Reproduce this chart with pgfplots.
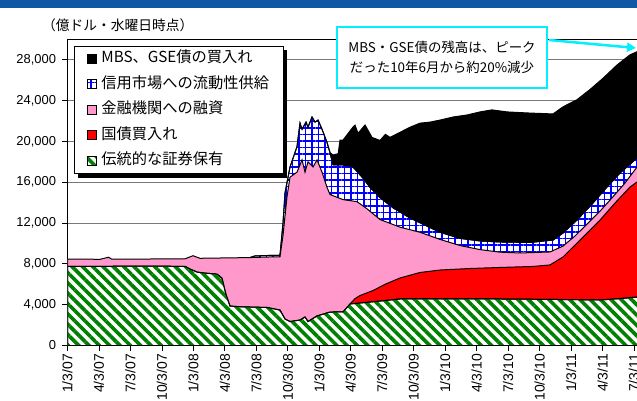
\documentclass[border=0pt]{standalone}
\usepackage{fontspec}
\setmainfont{Liberation Sans}
\newfontfamily\jp{Noto Sans CJK JP}
\usepackage{pgfplots}
\pgfplotsset{compat=1.18}
\usetikzlibrary{patterns.meta,arrows.meta}
\definecolor{titleblue}{RGB}{16,88,163}
\definecolor{pinkfill}{RGB}{255,153,204}
\definecolor{stripegreen}{RGB}{0,128,0}
\definecolor{annocyan}{RGB}{0,240,255}
\definecolor{gridgray}{RGB}{120,120,120}
\begin{document}
\begin{tikzpicture}
\useasboundingbox (0bp,0bp) rectangle (637bp,401bp);
\fill[titleblue] (0bp,393bp) rectangle (637bp,401bp);
\node[font=\jp\fontsize{13.8}{15}\selectfont, anchor=west, inner sep=0pt] at (42bp,376bp) {（億ドル・水曜日時点）};
\begin{axis}[
  at={(67.5bp,55.5bp)}, anchor=south west, scale only axis,
  width=572.8bp, height=306bp,
  xmin=0, xmax=18.2, ymin=0, ymax=30000,
  axis line style={black, line width=0.8bp},
  xtick={0,...,18},
  xticklabels={1/3/07,4/3/07,7/3/07,10/3/07,1/3/08,4/3/08,7/3/08,10/3/08,1/3/09,4/3/09,7/3/09,10/3/09,1/3/10,4/3/10,7/3/10,10/3/10,1/3/11,4/3/11,7/3/11},
  ytick={0,4000,...,28000},
  scaled y ticks=false,
  /pgf/number format/1000 sep={,},
  /pgf/number format/assume math mode=true,
  tick align=outside, xtick pos=bottom, ytick pos=left,
  major tick length=5bp,
  tick style={black, line width=0.8bp},
  ymajorgrids, grid style={gridgray, line width=0.8bp},
  yticklabel style={font=\fontsize{13}{15}\selectfont, xshift=-3bp},
  xticklabel style={rotate=90, anchor=east, font=\fontsize{14}{15}\selectfont},
  legend cell align=left,
  legend image code/.code={\draw[#1] (0bp,-4.5bp) rectangle (9bp,4.5bp); \path (12bp,0bp);},
  legend style={name=leg, at={(0.0113,0.9788)}, anchor=north west, draw=black, line width=0.8bp, fill=white,
    font=\jp\fontsize{15.3}{17}\selectfont, row sep=9.5bp, inner xsep=13bp, inner ysep=4.5bp,
    nodes={inner sep=1bp, text height=11bp, text depth=3bp}},
]
% MBS / GSE (cumulative total)
\addplot[fill=black, draw=black, line width=1bp] coordinates {
(8.341,18900) (8.437,18680) (8.600,18800) (8.660,20140) (8.755,20140) (9.072,21420) (9.136,21600) (9.231,20800) (9.454,21620) (9.676,20400) (9.930,20100) (10.100,20700) (10.248,20400) (10.566,20900) (10.883,21400) (11.201,21800) (11.519,21900) (11.837,22100) (12.250,22400) (12.695,22600) (13.108,22900) (13.489,23100) (13.966,22900) (14.601,22800) (15.428,22700) (15.745,23400) (16.190,24100) (16.603,25100) (17.016,26200) (17.461,27500) (17.874,28500) (18.096,28800) (18.2,28900)
} \closedcycle;
\addlegendentry{MBS、GSE債の買入れ}
% credit markets (cumulative)
\addplot[preaction={fill=white}, pattern={Hatch[angle=0,distance=6.5bp,line width=1.5bp]}, pattern color=blue, draw=black, line width=1bp] coordinates {
(5.799,8620) (5.958,8780) (6.435,8830) (6.752,8850) (6.848,12000) (6.911,14950) (7.070,17500) (7.293,19500) (7.388,21800) (7.452,21200) (7.579,21900) (7.642,21400) (7.769,22400) (7.865,21900) (7.960,22100) (8.087,21200) (8.246,19900) (8.341,18900) (8.437,17700) (8.755,17700) (9.072,17500) (9.390,16400) (9.612,15500) (9.930,14500) (10.343,13500) (10.883,12500) (11.424,11700) (11.837,11100) (12.472,10500) (13.108,10250) (13.743,10150) (14.697,10100) (15.428,10340) (15.745,11030) (16.190,12300) (16.698,13970) (17.143,15540) (17.556,16910) (18.096,18380) (18.2,18450)
} \closedcycle;
\addlegendentry{信用市場への流動性供給}
% loans to financial institutions (cumulative)
\addplot[fill=pinkfill, draw=black, line width=1bp] coordinates {
(0,8480) (1.033,8450) (1.300,8650) (1.400,8480) (2.622,8480) (3.734,8500) (3.988,8800) (4.210,8550) (5.799,8620) (6.435,8680) (6.752,8700) (6.848,10800) (6.975,14600) (7.070,16500) (7.293,17000) (7.452,18200) (7.547,17000) (7.642,18000) (7.801,17500) (7.928,18200) (8.087,17000) (8.246,15500) (8.341,14800) (8.755,14300) (9.199,14100) (9.517,13400) (9.930,12350) (10.566,11600) (11.201,11100) (11.837,10400) (12.472,9800) (13.108,9400) (13.743,9150) (14.379,9070) (15.332,9170) (15.745,9750) (16.127,10740) (16.603,12200) (16.921,13180) (17.239,14260) (17.715,15930) (18.096,17500) (18.2,17600)
} \closedcycle;
\addlegendentry{金融機関への融資}
% Treasury purchases (cumulative)
\addplot[fill=red, draw=black, line width=1bp] coordinates {
(8.977,4070) (9.136,4600) (9.295,4900) (9.708,5390) (10.089,6000) (10.566,6620) (11.201,7160) (11.837,7400) (12.790,7550) (13.743,7650) (14.792,7750) (15.332,7900) (15.745,8680) (16.285,10340) (16.921,12300) (17.397,13970) (17.874,15540) (18.096,16030) (18.2,16100)
} \closedcycle;
\addlegendentry{国債買入れ}
% traditional securities holdings
\addplot[preaction={fill=white}, pattern={Lines[angle=-45,distance=7.3bp,line width=3.6bp]}, pattern color=stripegreen, draw=black, line width=1bp] coordinates {
(0,7750) (1.033,7760) (2.304,7790) (3.734,7760) (3.892,7500) (4.115,7200) (4.369,7100) (4.750,7000) (4.909,6600) (5.036,5000) (5.164,3870) (5.481,3800) (6.339,3730) (6.752,3480) (6.911,2600) (7.070,2350) (7.388,2500) (7.547,2800) (7.642,2350) (7.928,2900) (8.341,3280) (8.755,3300) (8.977,4070) (9.612,4260) (10.566,4560) (13.743,4560) (15.332,4520) (16.921,4460) (17.556,4600) (18.096,4750) (18.2,4760)
} \closedcycle;
\addlegendentry{伝統的な証券保有}
\end{axis}
% legend shadow
\fill[black] ([yshift=-4bp]leg.north east) rectangle ([xshift=4bp,yshift=-4bp]leg.south east);
\fill[black] ([xshift=4bp,yshift=-4bp]leg.south west) rectangle (leg.south east);
\node[draw=annocyan, line width=2.5bp, fill=white, minimum width=210bp, minimum height=61bp, align=center, font=\jp\fontsize{13.5}{20}\selectfont, inner sep=0pt] at (442bp,343.5bp) {MBS・GSE債の残高は、ピーク\\だった10年6月から約20\%減少};
\draw[annocyan, line width=2.5bp, -{Triangle[length=9bp,width=9bp]}] (549bp,361bp) -- (636bp,353bp);
\end{tikzpicture}
\end{document}
